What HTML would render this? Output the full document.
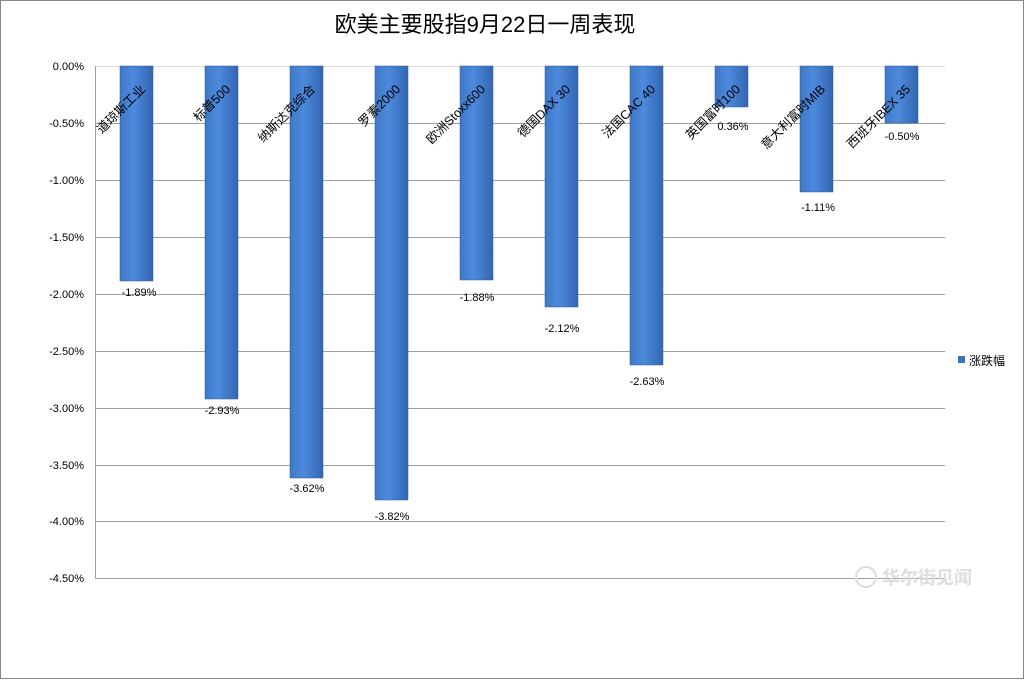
<!DOCTYPE html>
<html><head><meta charset="utf-8"><style>
body{margin:0;background:#fff}
svg text{font-family:"Liberation Sans","Noto Sans CJK SC",sans-serif}
</style></head><body>
<svg width="1024" height="679" xmlns="http://www.w3.org/2000/svg">
<defs>
<linearGradient id="g" x1="0" x2="1" y1="0" y2="0">
<stop offset="0" stop-color="#3f78c4"/><stop offset="0.4" stop-color="#4d8ade"/><stop offset="1" stop-color="#3366b0"/>
</linearGradient>
</defs>
<rect x="0.5" y="0.5" width="1023" height="678" fill="#fff" stroke="#888"/>
<text x="485" y="32" font-size="22" text-anchor="middle" fill="#000">欧美主要股指9月22日一周表现</text>
<g stroke="#a0a0a0" stroke-width="1">
<line x1="95" x2="945" y1="66.5" y2="66.5" stroke="#ddd"/>
<line x1="95" x2="945" y1="123.5" y2="123.5"/>
<line x1="95" x2="945" y1="180.5" y2="180.5"/>
<line x1="95" x2="945" y1="237.5" y2="237.5"/>
<line x1="95" x2="945" y1="294.5" y2="294.5"/>
<line x1="95" x2="945" y1="351.5" y2="351.5"/>
<line x1="95" x2="945" y1="408.5" y2="408.5"/>
<line x1="95" x2="945" y1="465.5" y2="465.5"/>
<line x1="95" x2="945" y1="521.5" y2="521.5"/>
<line x1="95" x2="945" y1="578.5" y2="578.5"/>
<line x1="95.5" x2="95.5" y1="66" y2="578"/>
</g>
<g font-size="11" fill="#000" text-anchor="end">
<text x="84" y="70">0.00%</text><text x="84" y="127">-0.50%</text><text x="84" y="184">-1.00%</text>
<text x="84" y="241">-1.50%</text><text x="84" y="298">-2.00%</text><text x="84" y="355">-2.50%</text>
<text x="84" y="412">-3.00%</text><text x="84" y="469">-3.50%</text><text x="84" y="525">-4.00%</text>
<text x="84" y="582">-4.50%</text>
</g>
<g fill="url(#g)" stroke="#2b5a9c" stroke-width="0.5">
<rect x="120" y="66" width="33" height="215"/>
<rect x="205" y="66" width="33" height="333"/>
<rect x="290" y="66" width="33" height="412"/>
<rect x="375" y="66" width="33" height="434"/>
<rect x="460" y="66" width="33" height="214"/>
<rect x="545" y="66" width="33" height="241"/>
<rect x="630" y="66" width="33" height="299"/>
<rect x="715" y="66" width="33" height="41"/>
<rect x="800" y="66" width="33" height="126"/>
<rect x="885" y="66" width="33" height="57"/>
</g>
<g font-size="11" fill="#000" text-anchor="middle">
<text x="139" y="296">-1.89%</text><text x="222" y="414">-2.93%</text><text x="307" y="492">-3.62%</text>
<text x="392" y="520">-3.82%</text><text x="477" y="301">-1.88%</text><text x="562" y="332">-2.12%</text>
<text x="647" y="385">-2.63%</text><text x="733" y="130">0.36%</text><text x="818" y="211">-1.11%</text>
<text x="902" y="140">-0.50%</text>
</g>
<g font-size="12.5" fill="#000" text-anchor="end">
<text transform="translate(146,90) rotate(-45)">道琼斯工业</text>
<text transform="translate(231,90) rotate(-45)">标普500</text>
<text transform="translate(316,90) rotate(-45)">纳斯达克综合</text>
<text transform="translate(401,90) rotate(-45)">罗素2000</text>
<text transform="translate(486,90) rotate(-45)">欧洲Stoxx600</text>
<text transform="translate(571,90) rotate(-45)">德国DAX 30</text>
<text transform="translate(656,90) rotate(-45)">法国CAC 40</text>
<text transform="translate(741,90) rotate(-45)">英国富时100</text>
<text transform="translate(826,90) rotate(-45)">意大利富时MIB</text>
<text transform="translate(911,90) rotate(-45)">西班牙IBEX 35</text>
</g>
<rect x="958" y="356" width="7" height="7" fill="#3a72c0"/>
<text x="969" y="365" font-size="12" fill="#000">涨跌幅</text>
<circle cx="866" cy="577" r="10" fill="none" stroke="#ddd" stroke-width="2"/>
<text x="882" y="584" font-size="18" font-weight="bold" fill="#ddd">华尔街见闻</text>
</svg>
</body></html>
